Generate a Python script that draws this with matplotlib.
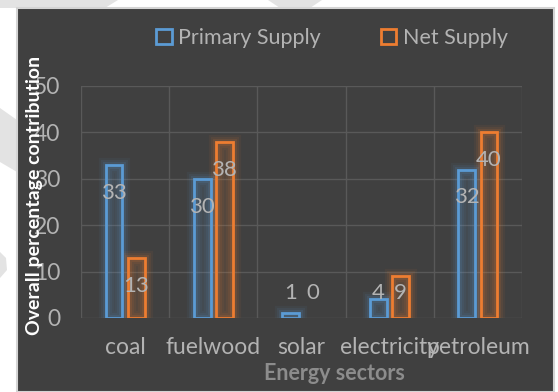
import matplotlib
matplotlib.use("Agg")
import matplotlib.pyplot as plt
from matplotlib.patches import Rectangle, Polygon, Patch
import numpy as np

# data
sectors = ["coal", "fuelwood", "solar", "electricity", "petroleum"]
primary_supply = [33, 30, 1, 4, 32]
net_supply = [13, 38, 0, 9, 40]
series_names = ["Primary Supply", "Net Supply"]
y_ticks = [0, 10, 20, 30, 40, 50]

BLUE = "#5b9bd5"
ORANGE = "#ed7d31"
PANEL = "#404040"
GRID = "#595959"
TEXT = "#b3b3b3"

plt.rcParams['font.family'] = ['Lato', 'DejaVu Sans']

W, H = 558, 392
fig = plt.figure(figsize=(W / 100, H / 100), dpi=100)
fig.patch.set_facecolor("white")


def fx(px):
    return px / W


def fy(py):
    return 1 - py / H


# faint watermark shapes in the white margin
for pts in ([(0, 0), (118, 0), (105, 8), (0, 8)],
            [(268, 0), (322, 0), (310, 8), (280, 8)],
            [(0, 108), (17, 120), (17, 172), (0, 162)],
            [(0, 252), (6, 258), (7, 270), (0, 278)]):
    fig.patches.append(Polygon([(fx(x), fy(y)) for x, y in pts],
                               closed=True, transform=fig.transFigure,
                               facecolor="#e3e3e3", edgecolor="none",
                               zorder=-2))

# dark chart panel
fig.patches.append(Rectangle((fx(17), 0), fx(554) - fx(17), fy(8),
                             transform=fig.transFigure, facecolor=PANEL,
                             edgecolor="#d4d4d4", lw=1.5, zorder=-1))

ax = fig.add_axes([fx(81), fy(318), fx(522) - fx(81), fy(86) - fy(318)])
ax.set_zorder(1)
ax.set_facecolor("none")
for s in ax.spines.values():
    s.set_visible(False)

x = np.arange(len(sectors))
width = 0.19
offset = 0.125

# grid
for yv in y_ticks:
    ax.axhline(yv, color=GRID, lw=1, zorder=0)
for i in range(len(sectors) + 1):
    ax.axvline(i - 0.5, color=GRID, lw=1, zorder=0)


def draw_series(xpos, values, color):
    vals = np.array(values)
    keep = vals > 0
    xs, vs = xpos[keep], vals[keep]
    # soft glow around the outline
    for lw, a in [(11, 0.06), (8, 0.08), (5, 0.12)]:
        ax.bar(xs, vs, width=width, facecolor="none", edgecolor=color,
               lw=lw, alpha=a, zorder=2)
    ax.bar(xs, vs, width=width, facecolor=color, alpha=0.12,
           edgecolor="none", zorder=2)
    ax.bar(xs, vs, width=width, facecolor="none", edgecolor=color,
           lw=2, zorder=3)
    for xp, v in zip(xpos, values):
        ax.text(xp, max(v - 6, 5.4), str(v), ha="center", va="center",
                color=TEXT, fontsize=16, zorder=4)


draw_series(x - offset, primary_supply, BLUE)
draw_series(x + offset, net_supply, ORANGE)

ax.set_xlim(-0.5, len(sectors) - 0.5)
ax.set_ylim(0, 50)
ax.set_xticks(x)
ax.set_xticklabels(sectors)
ax.set_yticks(y_ticks)
ax.tick_params(axis="both", length=0, colors=TEXT, labelsize=16.5)
ax.tick_params(axis="y", pad=15)
ax.tick_params(axis="x", pad=14)

fig.text(fx(334), fy(373), "Energy sectors", ha="center", va="center",
         color="#8c8c8c", fontsize=15.5, fontweight="bold")
fig.text(fx(35), fy(195), "Overall percentage contribution", rotation=90,
         ha="center", va="center", color="white", fontsize=14,
         fontweight="bold")

handles = [Patch(facecolor="none", edgecolor=BLUE, lw=2),
           Patch(facecolor="none", edgecolor=ORANGE, lw=2)]
fig.legend(handles, series_names, loc="center",
           bbox_to_anchor=(fx(332), fy(38)), ncol=2, frameon=False,
           handlelength=0.7, handleheight=0.7, handletextpad=0.3,
           columnspacing=2.8, fontsize=15.5, labelcolor=TEXT)

fig.savefig("out.png", dpi=100)
